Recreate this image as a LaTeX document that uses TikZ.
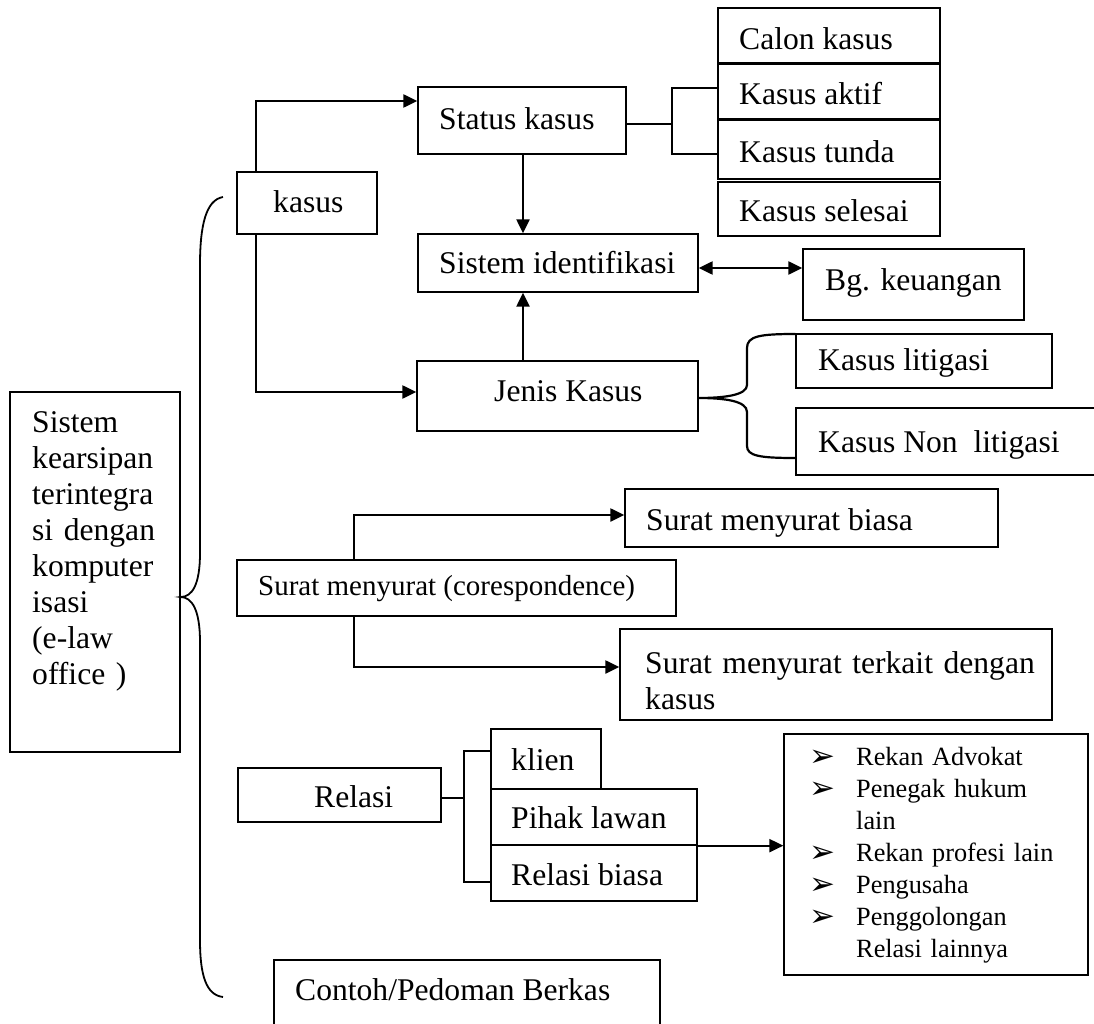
\documentclass[tikz,border=0pt]{standalone}
\usepackage{fontspec}
\setmainfont{Liberation Serif}
\newfontfamily\dvsans{DejaVu Sans}
\usetikzlibrary{arrows.meta,calc}
\newcommand\bx[8]{%
  \node[box, minimum width={#4-#2}, minimum height={#5-#3}] (#1) at ({(#2+#4)/2},{(#3+#5)/2}) {};
  \node[txt] (#1-t) at (#6,#7) {#8};}
\newcommand\arw{\makebox[47pt][l]{\smash{\raisebox{-1pt}{\dvsans\fontsize{31}{32}\selectfont ➢}}}}
\begin{document}
\begin{tikzpicture}[x=1pt,y=-1pt,
  box/.style={draw=black, line width=1.3pt, inner sep=0pt, anchor=center},
  txt/.style={inner sep=0pt, anchor=base west, font=\fontsize{31.6}{36}\selectfont},
  conn/.style={line width=2.2pt},
  tip/.tip={Triangle[length=14pt,width=13pt]},
  arr/.style={conn, -tip},
  brace/.style={line width=1.8pt}]
\useasboundingbox (0,0) rectangle (1094,1024);
\fill[white] (0,0) rectangle (1094,1024);

% top group
\bx{calon}{718}{8}{940}{63}{739}{50}{Calon kasus}
\bx{aktif}{718}{64}{940}{119}{739}{105}{Kasus aktif}
\bx{tunda}{718}{120}{940}{179}{739}{163}{Kasus tunda}
\bx{selesai}{718}{182}{940}{236}{739}{222}{Kasus selesai}
\bx{status}{418}{87}{626}{154}{439}{130}{Status kasus}
\bx{kasus}{237}{172}{377}{234}{273}{213}{kasus}
\bx{sist}{418}{234}{698}{292}{439}{273}{Sistem identifikasi}
\bx{bg}{803}{249}{1024}{320}{825}{290}{Bg. keuangan}
\bx{jenis}{417}{361}{698}{431}{494}{401}{Jenis Kasus}
\bx{lit}{796}{334}{1052}{388}{818}{370}{Kasus litigasi}
\bx{nonlit}{796}{408}{1110}{475}{818}{452}{Kasus Non\ \ litigasi}

% correspondence
\bx{biasa}{625}{489}{998}{547}{646}{530}{Surat menyurat biasa}
\node[box, minimum width=439, minimum height=56] (corr) at (456.5,588) {};
\node[txt, font=\fontsize{29}{34}\selectfont] (corr-t) at (258,595) {Surat menyurat (corespondence)};
\node[box, minimum width=432, minimum height=91] (terkait) at (836,674.5) {};
\node[txt, text width=420pt, align=left] (terkait-t) at (645,673) {Surat menyurat terkait dengan\\kasus};

% relasi
\bx{relasi}{238}{768}{441}{822}{314}{807}{Relasi}
\bx{klien}{491}{729}{601}{789}{511}{770}{klien}
\bx{pihak}{491}{789}{697}{845}{511}{828}{Pihak lawan}
\bx{rbiasa}{491}{845}{697}{901}{511}{885}{Relasi biasa}
\node[box, minimum width=304, minimum height=241] (list) at (936,854.5) {};
\node[txt, text width=280pt, align=left, font=\fontsize{26.3}{32}\selectfont] (list-t) at (809,765)
  {\arw Rekan Advokat\\ \arw Penegak hukum\\ \hspace*{47pt}lain\\ \arw Rekan profesi lain\\ \arw Pengusaha\\ \arw Penggolongan\\ \hspace*{47pt}Relasi lainnya};

\bx{contoh}{274}{960}{660}{1040}{295}{1000}{Contoh/Pedoman Berkas}

% main box
\node[box, minimum width=170, minimum height=360] (sk) at (95,572) {};
\node[txt, text width=150pt, align=left] (sk-t) at (32,432)
  {Sistem\\kearsipan\\terintegra\\si dengan\\komputer\\isasi\\(e-law\\office )};

% connectors
\draw[arr] (kasus.north -| 256,0) |- (status.west |- 0,101);
\draw[arr] (kasus.south -| 256,0) |- (jenis.west |- 0,392);
\draw[arr] (status.south -| 523,0) -- (sist.north -| 523,0);
\draw[arr] (jenis.north -| 523,0) -- (sist.south -| 523,0);
\draw[conn, tip-tip] (sist.east |- 0,268) -- (bg.west |- 0,268);

\coordinate (sb) at (672,124);
\draw[conn] (status.east |- sb) -- (sb);
\draw[conn] (aktif.west |- 0,88) -| (sb) |- (tunda.west |- 0,154);

\coordinate (jt) at (698,398);
\draw[conn] (lit.west |- 0,334) .. controls (760,334) and (747,336) .. (747,348) -- (747,385)
  .. controls (747,395) and (725,398) .. (jt)
  .. controls (725,398) and (747,401) .. (747,412) -- (747,446)
  .. controls (747,456) and (760,458) .. (nonlit.west |- 0,458);

\draw[arr] (corr.north -| 354,0) |- (biasa.west |- 0,515);
\draw[arr] (corr.south -| 354,0) |- (terkait.west |- 0,667);

\coordinate (rb) at (464,798);
\draw[conn] (relasi.east |- rb) -- (rb);
\draw[conn] (klien.west |- 0,751) -| (rb) |- (rbiasa.west |- 0,882);
\draw[arr] (pihak.south east) -- (list.west |- pihak.south east);

\coordinate (bt) at (223,197);
\coordinate (bb) at (223,997);
\draw[brace] (bt) .. controls (206,200) and (200,225) .. (200,265) -- (200,553)
  .. controls (200,585) and (192,597) .. (sk.east |- 0,597)
  .. controls (192,597) and (200,610) .. (200,642) -- (200,940)
  .. controls (200,975) and (206,995) .. (bb);
\end{tikzpicture}
\end{document}
